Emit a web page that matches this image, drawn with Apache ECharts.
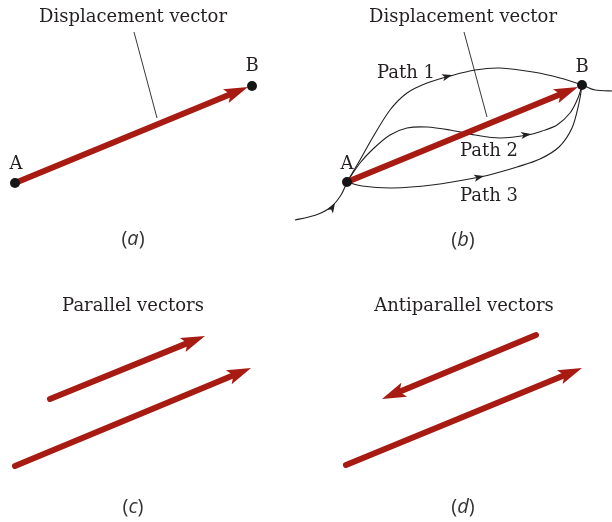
<!DOCTYPE html>
<html>
<head>
<meta charset="utf-8">
<script src="https://cdn.jsdelivr.net/npm/echarts@6/dist/echarts.min.js"></script>
<style>
html, body { margin: 0; padding: 0; background: #fff; }
#vectorChart { width: 612px; height: 522px; }
</style>
</head>
<body>
<div id="vectorChart"></div>
<script>
// picture coordinates: x to the right, y downward (0..612, 0..522)
var redVectors = [
  [15, 183, 248, 87],    // (a) A -> B
  [347, 182, 578, 87],   // (b) A -> B
  [50, 399, 205, 336],   // (c) upper
  [15, 466, 251, 368],   // (c) lower
  [536, 335, 382, 399],  // (d) upper, pointing back
  [346, 465, 582, 368]   // (d) lower
];
var endPoints = [[15, 183], [252, 86], [347, 182], [582, 85]];
var leaderLines = [[134, 32, 157, 118], [464, 32, 487, 117]];

var path1 = [[347, 182], [360, 160], [373, 137], [390, 110], [407, 93], [427, 83], [450, 76], [475, 70], [500, 68], [533, 72], [560, 78], [582, 85], [595, 90], [612, 91]];
var path2 = [[347, 182], [360, 163], [373, 149], [390, 135], [407, 128], [427, 127], [450, 130], [475, 135], [500, 138], [528, 135], [542, 131], [557, 125], [570, 113], [578, 98], [582, 85]];
var path3 = [[347, 182], [362, 186], [392, 188], [432, 185], [480, 177], [500, 172], [517, 167], [540, 159], [559, 147], [572, 128], [579, 103], [582, 85]];
var pathIn = [[295, 220], [316, 215], [331, 207], [341, 195], [347, 182]];
// small arrowheads: tip x, tip y, direction dx, dy
var pathArrows = [[452, 75, 1, -0.28], [531, 134, 1, -0.15], [484, 176, 1, -0.22], [335, 203, 0.6, -1]];

var labels = [
  ["Displacement vector", 133, 17], ["Displacement vector", 463, 17],
  ["A", 16, 164], ["B", 252, 66], ["A", 347, 164], ["B", 582, 67],
  ["Path 1", 406, 73], ["Path 2", 489, 151], ["Path 3", 489, 196],
  ["Parallel vectors", 133, 306], ["Antiparallel vectors", 464, 306]
];
var panelTags = [["a", 133, 239], ["b", 463, 240], ["c", 133, 507], ["d", 463, 507]];

var RED = "#a81b12";
var INK = "#231f20";

function renderVector(params, api) {
  var p1 = api.coord([api.value(0), api.value(1)]);
  var p2 = api.coord([api.value(2), api.value(3)]);
  var dx = p2[0] - p1[0], dy = p2[1] - p1[1];
  var len = Math.sqrt(dx * dx + dy * dy);
  var ux = dx / len, uy = dy / len, nx = -uy, ny = ux;
  var headLen = 24, headW = 7.5, notch = 19;
  var base = [p2[0] - ux * notch, p2[1] - uy * notch];
  return {
    type: "group",
    children: [
      {
        type: "line",
        shape: { x1: p1[0], y1: p1[1], x2: base[0] + ux * 2, y2: base[1] + uy * 2 },
        style: { stroke: RED, lineWidth: 6, lineCap: "round" }
      },
      {
        type: "polygon",
        shape: {
          points: [
            p2,
            [p2[0] - ux * headLen + nx * headW, p2[1] - uy * headLen + ny * headW],
            base,
            [p2[0] - ux * headLen - nx * headW, p2[1] - uy * headLen - ny * headW]
          ]
        },
        style: { fill: RED }
      }
    ]
  };
}

function renderSmallArrow(params, api) {
  var p = api.coord([api.value(0), api.value(1)]);
  var dx = api.value(2), dy = api.value(3);
  var len = Math.sqrt(dx * dx + dy * dy);
  var ux = dx / len, uy = dy / len, nx = -uy, ny = ux;
  var headLen = 10, headW = 3.6, notch = 7.5;
  return {
    type: "polygon",
    shape: {
      points: [
        p,
        [p[0] - ux * headLen + nx * headW, p[1] - uy * headLen + ny * headW],
        [p[0] - ux * notch, p[1] - uy * notch],
        [p[0] - ux * headLen - nx * headW, p[1] - uy * headLen - ny * headW]
      ]
    },
    style: { fill: INK }
  };
}

function renderSegment(params, api) {
  var p1 = api.coord([api.value(0), api.value(1)]);
  var p2 = api.coord([api.value(2), api.value(3)]);
  return {
    type: "line",
    shape: { x1: p1[0], y1: p1[1], x2: p2[0], y2: p2[1] },
    style: { stroke: INK, lineWidth: 0.9 }
  };
}

// one Catmull-Rom piece per data item, so the curve runs smoothly through every point
function curveSeries(pts) {
  return {
    type: "custom",
    data: pts,
    z: 2,
    silent: true,
    renderItem: function (params, api) {
      var i = params.dataIndex;
      if (i >= pts.length - 1) return null;
      var n = pts.length;
      var p0 = api.coord(pts[Math.max(i - 1, 0)]);
      var p1 = api.coord(pts[i]);
      var p2 = api.coord(pts[i + 1]);
      var p3 = api.coord(pts[Math.min(i + 2, n - 1)]);
      return {
        type: "bezierCurve",
        shape: {
          x1: p1[0], y1: p1[1], x2: p2[0], y2: p2[1],
          cpx1: p1[0] + (p2[0] - p0[0]) / 6, cpy1: p1[1] + (p2[1] - p0[1]) / 6,
          cpx2: p2[0] - (p3[0] - p1[0]) / 6, cpy2: p2[1] - (p3[1] - p1[1]) / 6
        },
        style: { stroke: INK, lineWidth: 1.1, fill: null }
      };
    }
  };
}

function renderLabel(params, api) {
  var p = api.coord([api.value(0), api.value(1)]);
  return {
    type: "text",
    x: p[0], y: p[1],
    style: {
      text: labels[params.dataIndex][0],
      font: "18px 'DejaVu Serif'",
      fill: INK,
      align: "center",
      verticalAlign: "middle"
    }
  };
}

function renderTag(params, api) {
  var p = api.coord([api.value(0), api.value(1)]);
  return {
    type: "text",
    x: p[0], y: p[1],
    style: {
      text: "{n|(}{i|" + panelTags[params.dataIndex][0] + "}{n|)}",
      align: "center",
      verticalAlign: "middle",
      rich: {
        n: { font: "20px 'Open Sans'", fill: "#333" },
        i: { font: "italic 20px 'Open Sans'", fill: "#333" }
      }
    }
  };
}

var chart = echarts.init(document.getElementById("vectorChart"));
chart.setOption({
  animation: false,
  backgroundColor: "#fff",
  grid: { left: 0, right: 0, top: 0, bottom: 0 },
  xAxis: { type: "value", min: 0, max: 612, show: false },
  yAxis: { type: "value", min: 0, max: 522, inverse: true, show: false },
  series: [
    curveSeries(path1),
    curveSeries(path2),
    curveSeries(path3),
    curveSeries(pathIn),
    { type: "custom", renderItem: renderSegment, data: leaderLines, z: 2 },
    { type: "custom", renderItem: renderSmallArrow, data: pathArrows, z: 3 },
    { type: "custom", renderItem: renderVector, data: redVectors, z: 4 },
    {
      type: "scatter",
      data: endPoints,
      symbolSize: 10,
      itemStyle: { color: "#151515", opacity: 1 },
      z: 5
    },
    {
      type: "custom",
      renderItem: renderLabel,
      data: labels.map(function (l) { return [l[1], l[2]]; }),
      z: 6
    },
    {
      type: "custom",
      renderItem: renderTag,
      data: panelTags.map(function (t) { return [t[1], t[2]]; }),
      z: 6
    }
  ]
});
</script>
</body>
</html>
